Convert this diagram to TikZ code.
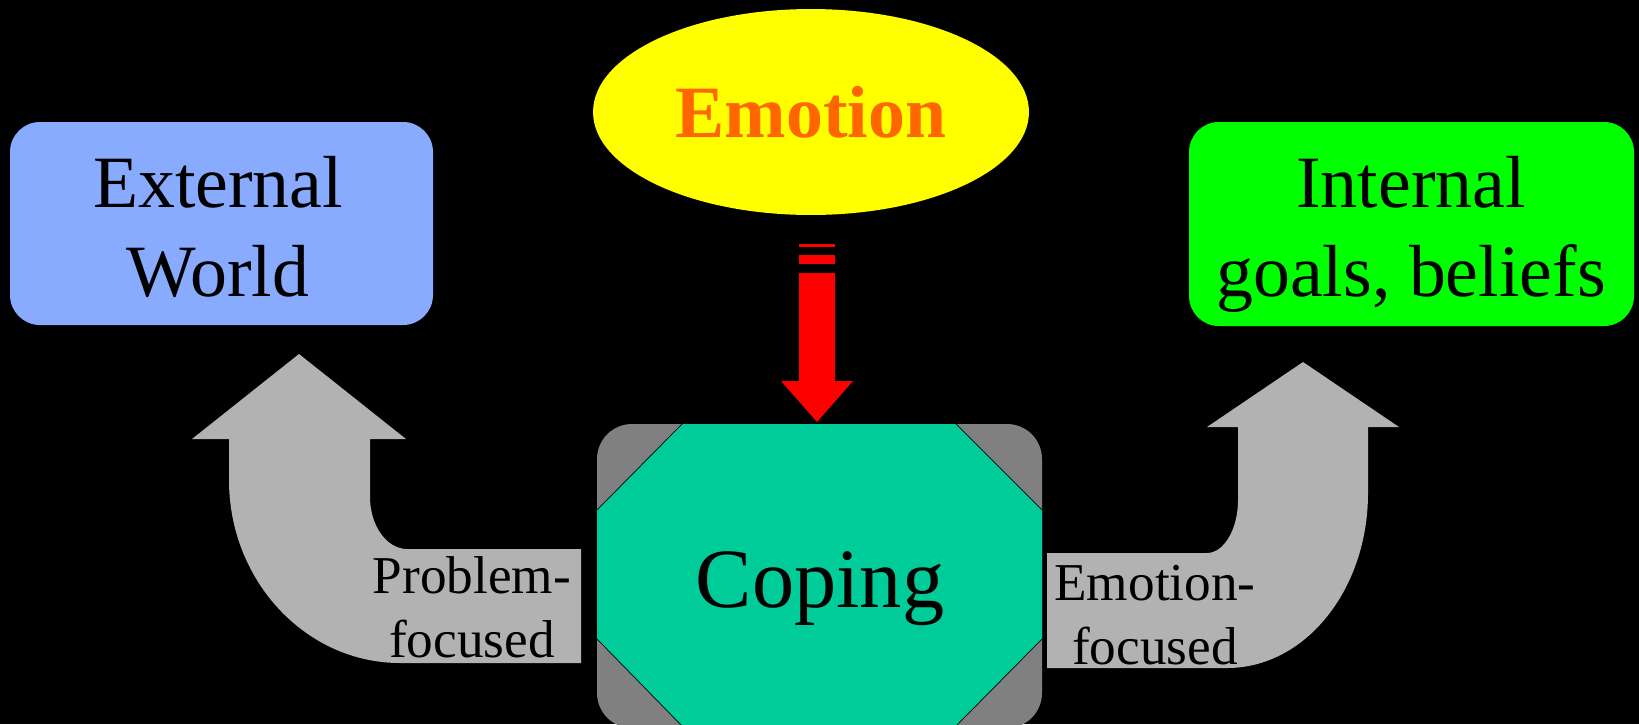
\documentclass[tikz,border=0pt]{standalone}
\usepackage{fontspec}
\setmainfont{Liberation Serif}
\usetikzlibrary{shapes.geometric}

\definecolor{worldblue}{HTML}{88AAFF}
\definecolor{goalgreen}{HTML}{00FF00}
\definecolor{emoyellow}{HTML}{FFFF00}
\definecolor{emoorange}{HTML}{FF6600}
\definecolor{copeteal}{HTML}{00CC99}
\definecolor{cornergray}{HTML}{808080}
\definecolor{arrowgray}{HTML}{B2B2B2}

\tikzset{
	boxtext/.style={inner sep=0pt, align=center, font=\fontsize{42}{51}\selectfont},
	arrowtext/.style={inner sep=0pt, align=center, font=\fontsize{30.3}{36.5}\selectfont}
}

\begin{document}
\begin{tikzpicture}[x=0.02cm, y=-0.02cm]
		%%%%% START %%%%%
		\fill[black] (0,0) rectangle (1639,724);
		\useasboundingbox (0,0) rectangle (1639,724);
		
		\fill[worldblue, rounded corners=0.6cm] (10,122) rectangle (433,325);
		\node[boxtext] (extworld) at (218,227) {External\\World};
		
		\fill[goalgreen, rounded corners=0.6cm] (1189,122) rectangle (1634,326);
		\node[boxtext] (intgoals) at (1411,234.5) {Internal\\goals, beliefs};
		
		\node[ellipse, fill=emoyellow, inner sep=0pt, minimum width=8.72cm, minimum height=4.12cm,
			text=emoorange, font=\fontsize{42}{50}\selectfont\bfseries] (emotion) at (811,112) {Emotion};
		
		\fill[red] (799,244) rectangle (835,247);
		\fill[red] (799,255) rectangle (835,264);
		\fill[red] (799,273) -- (835,273) -- (835,381) -- (853,381) -- (817,422) -- (781,381) -- (799,381) -- cycle;
		
		\fill[cornergray, rounded corners=0.7cm] (597,424) rectangle (1042,728);
		\fill[copeteal] (682,424) -- (956,424) -- (1042,510) -- (1042,639) -- (956,726) -- (682,726) -- (597,639) -- (597,510) -- cycle;
		\draw[thin] (682,424) -- (597,510);
		\draw[thin] (956,424) -- (1042,510);
		\draw[thin] (1042,639) -- (956,726);
		\draw[thin] (597,639) -- (682,726);
		\node[anchor=base, inner sep=0pt, font=\fontsize{48}{56}\selectfont] (coping) at (820,607) {Coping};
		
		\fill[arrowgray] (581,663) -- (581,549) -- (407,549) .. controls (387,549) and (370,526) .. (370,497) -- (370,439) -- (406,439) -- (299,354) -- (192,439) -- (229,439) -- (229,480) .. controls (229,581) and (306,663) .. (400,663) -- cycle;
		\node[arrowtext] (probfoc) at (472,607.5) {Problem-\\focused};
		
		\fill[arrowgray] (1047,668) -- (1047,553) -- (1207,553) .. controls (1224,553) and (1238,529) .. (1238,500) -- (1238,427) -- (1207,427) -- (1303,362) -- (1399,427) -- (1368,427) -- (1368,493) .. controls (1368,590) and (1305,668) .. (1227,668) -- cycle;
		\node[arrowtext] (emofoc) at (1155,615.5) {Emotion-\\focused};
		%%%%% END %%%%%
	\end{tikzpicture}
\end{document}
